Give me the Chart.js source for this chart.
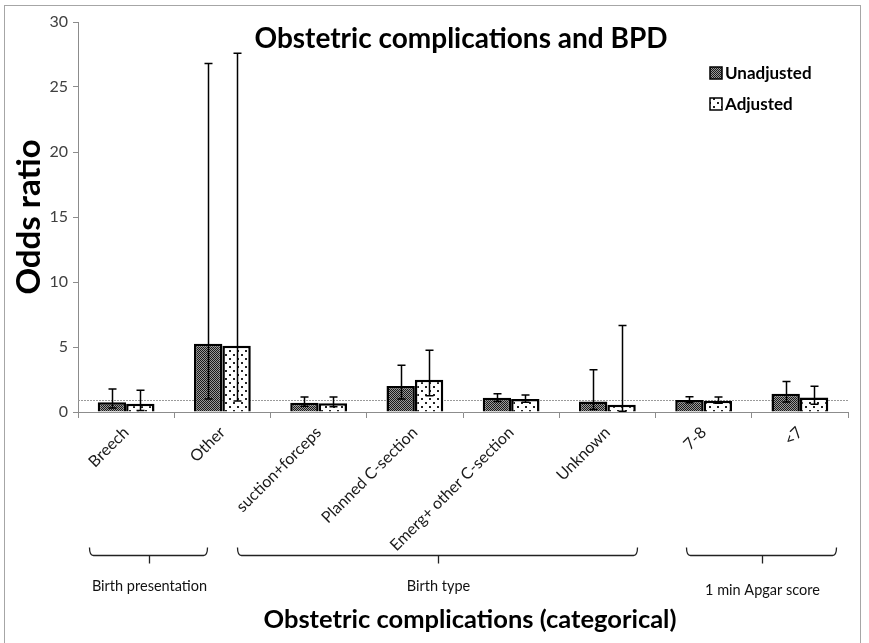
<!DOCTYPE html>
<html>
<head>
<meta charset="utf-8">
<script src="https://cdn.jsdelivr.net/npm/chart.js@4.4.1/dist/chart.umd.min.js"></script>
<style>
  html, body { margin: 0; padding: 0; background: #fff; }
  #wrap { width: 869px; height: 643px; position: relative; }
</style>
</head>
<body>
<div id="wrap"><canvas id="c"></canvas></div>
<script>
// Categories and odds ratios (with 95% CI bounds) for each complication
const categories = ['Breech', 'Other', 'suction+forceps', 'Planned C-section', 'Emerg+ other C-section', 'Unknown', '7-8', '<7'];
const unadjusted      = [0.75, 5.25, 0.72, 2.00, 1.10, 0.80, 0.92, 1.40];
const unadjustedLower = [0.30, 1.00, 0.45, 1.00, 0.80, 0.20, 0.72, 0.77];
const unadjustedUpper = [1.77, 26.8, 1.15, 3.60, 1.40, 3.25, 1.18, 2.35];
const adjusted        = [0.63, 5.10, 0.68, 2.48, 1.00, 0.55, 0.87, 1.12];
const adjustedLower   = [0.12, 0.85, 0.40, 1.25, 0.75, 0.05, 0.68, 0.60];
const adjustedUpper   = [1.67, 27.6, 1.15, 4.75, 1.30, 6.65, 1.15, 1.98];
const yTicks = [0, 5, 10, 15, 20, 25, 30];
const groupNames = ['Birth presentation', 'Birth type', '1 min Apgar score'];
const seriesNames = ['Unadjusted', 'Adjusted'];
const referenceOR = 0.9;

const FONT = 'Lato, "Open Sans", sans-serif';

// Fill patterns for the two series
function makePattern(w, h, paint) {
  const cv = document.createElement('canvas');
  cv.width = w; cv.height = h;
  const g = cv.getContext('2d');
  paint(g);
  return document.getElementById('c').getContext('2d').createPattern(cv, 'repeat');
}
const densePattern = makePattern(4, 4, g => {
  for (let y = 0; y < 4; y++) for (let x = 0; x < 4; x++) {
    g.fillStyle = (x + y) % 2 === 0 ? '#1a1a1a' : '#9a9a9a';
    g.fillRect(x, y, 1, 1);
  }
});
const dotPattern = makePattern(8, 8, g => {
  g.fillStyle = '#ffffff'; g.fillRect(0, 0, 8, 8);
  g.fillStyle = '#222222';
  g.fillRect(1, 2, 2, 2);
  g.fillRect(5, 6, 2, 2);
});

// Frame around the whole figure
const framePlugin = {
  id: 'frame',
  beforeDraw(chart) {
    const ctx = chart.ctx;
    ctx.save();
    ctx.fillStyle = '#fff';
    ctx.fillRect(0, 0, chart.width, chart.height);
    ctx.strokeStyle = '#a6a6a6';
    ctx.lineWidth = 1;
    ctx.strokeRect(4.5, 5.5, 856, 645);
    ctx.restore();
  }
};

// Dotted line at the reference odds ratio
const refLinePlugin = {
  id: 'refLine',
  beforeDatasetsDraw(chart) {
    const { ctx, chartArea, scales } = chart;
    const y = Math.round(scales.y.getPixelForValue(referenceOR)) + 0.5;
    ctx.save();
    ctx.strokeStyle = '#9a9a9a';
    ctx.lineWidth = 1;
    ctx.setLineDash([2, 1]);
    ctx.beginPath();
    ctx.moveTo(chartArea.left, y);
    ctx.lineTo(chartArea.right, y);
    ctx.stroke();
    ctx.restore();
  }
};

// Confidence interval whiskers
const errorBarPlugin = {
  id: 'errorBars',
  afterDatasetsDraw(chart) {
    const { ctx, scales } = chart;
    const bounds = [[unadjustedLower, unadjustedUpper], [adjustedLower, adjustedUpper]];
    ctx.save();
    ctx.strokeStyle = '#000';
    ctx.lineWidth = 1.5;
    chart.data.datasets.forEach((ds, di) => {
      const meta = chart.getDatasetMeta(di);
      meta.data.forEach((bar, i) => {
        const x = Math.round(bar.x) + 0.5;
        const yLo = scales.y.getPixelForValue(bounds[di][0][i]);
        const yHi = scales.y.getPixelForValue(bounds[di][1][i]);
        ctx.beginPath();
        ctx.moveTo(x, yLo); ctx.lineTo(x, yHi);
        ctx.moveTo(x - 4, yHi); ctx.lineTo(x + 4, yHi);
        ctx.moveTo(x - 4, yLo); ctx.lineTo(x + 4, yLo);
        ctx.stroke();
      });
    });
    ctx.restore();
  }
};

// Title, legend, group braces and the category-axis caption
const annotationsPlugin = {
  id: 'annotations',
  afterDraw(chart) {
    const { ctx, scales } = chart;
    const xs = scales.x;
    ctx.save();

    // title
    ctx.fillStyle = '#000';
    ctx.font = 'bold 28px ' + FONT;
    ctx.textAlign = 'center';
    ctx.textBaseline = 'middle';
    ctx.fillText('Obstetric complications and BPD', 461, 39);

    // legend
    const fills = [densePattern, dotPattern];
    ctx.font = 'bold 17px ' + FONT;
    ctx.textAlign = 'left';
    seriesNames.forEach((name, i) => {
      const y = 73 + i * 31;
      ctx.fillStyle = fills[i];
      ctx.fillRect(710, y - 6, 12, 12);
      ctx.strokeStyle = '#000';
      ctx.lineWidth = 1.5;
      ctx.strokeRect(710, y - 6, 12, 12);
      ctx.fillStyle = '#000';
      ctx.fillText(name, 725, y + 1);
    });

    // group braces (spans in category-index units)
    const spans = [[-0.39, 0.84], [1.15, 5.31], [5.82, 7.38]];
    const labelY = [586, 586, 590];
    ctx.strokeStyle = '#222';
    ctx.lineWidth = 1.3;
    spans.forEach((s, i) => {
      const x0 = Math.round(xs.getPixelForValue(s[0])) + 0.5;
      const x1 = Math.round(xs.getPixelForValue(s[1])) + 0.5;
      const xm = Math.round((x0 + x1) / 2) + 0.5;
      const yb = 555.5;
      ctx.beginPath();
      ctx.moveTo(x0, yb - 8);
      ctx.quadraticCurveTo(x0, yb, x0 + 4, yb);
      ctx.lineTo(x1 - 4, yb);
      ctx.quadraticCurveTo(x1, yb, x1, yb - 8);
      ctx.moveTo(xm, yb);
      ctx.lineTo(xm, yb + 8);
      ctx.stroke();
      ctx.fillStyle = '#111';
      ctx.font = '14.5px ' + FONT;
      ctx.textAlign = 'center';
      ctx.textBaseline = 'middle';
      ctx.fillText(groupNames[i], xm, labelY[i]);
    });

    // category-axis caption
    ctx.fillStyle = '#000';
    ctx.font = 'bold 25.5px ' + FONT;
    ctx.textAlign = 'center';
    ctx.textBaseline = 'middle';
    ctx.fillText('Obstetric complications (categorical)', 470, 620);
    ctx.restore();
  }
};

new Chart(document.getElementById('c'), {
  type: 'bar',
  data: {
    labels: categories,
    datasets: [
      { label: seriesNames[0], data: unadjusted, backgroundColor: densePattern, borderColor: '#000', borderWidth: 2.5 },
      { label: seriesNames[1], data: adjusted, backgroundColor: dotPattern, borderColor: '#000', borderWidth: 2.5 }
    ]
  },
  options: {
    responsive: true,
    maintainAspectRatio: false,
    animation: false,
    devicePixelRatio: 1,
    layout: { padding: { left: 0, top: 22, right: 21, bottom: 0 } },
    datasets: { bar: { categoryPercentage: 0.59, barPercentage: 1.0 } },
    plugins: {
      legend: { display: false },
      title: { display: false },
      tooltip: { enabled: false }
    },
    scales: {
      x: {
        grid: { display: true, offset: true, drawOnChartArea: false, color: '#8c8c8c', tickLength: 6 },
        border: { color: '#8c8c8c', width: 1 },
        ticks: { autoSkip: false, minRotation: 45, maxRotation: 45, padding: 5, color: '#1a1a1a', font: { family: FONT, size: 16 } },
        afterFit(scale) { scale.height = 231; }
      },
      y: {
        min: 0, max: 30,
        afterBuildTicks(scale) { scale.ticks = yTicks.map(v => ({ value: v })); },
        grid: { display: true, drawOnChartArea: false, color: '#8c8c8c', tickLength: 5 },
        border: { color: '#8c8c8c', width: 1 },
        ticks: { padding: 5, color: '#404040', font: { family: FONT, size: 16 } },
        title: { display: true, text: 'Odds ratio', color: '#000', font: { family: FONT, size: 33, weight: 'bold' }, padding: { top: 10, bottom: 0 } },
        afterFit(scale) { scale.width = 78; }
      }
    }
  },
  plugins: [framePlugin, refLinePlugin, errorBarPlugin, annotationsPlugin]
});
</script>
</body>
</html>
